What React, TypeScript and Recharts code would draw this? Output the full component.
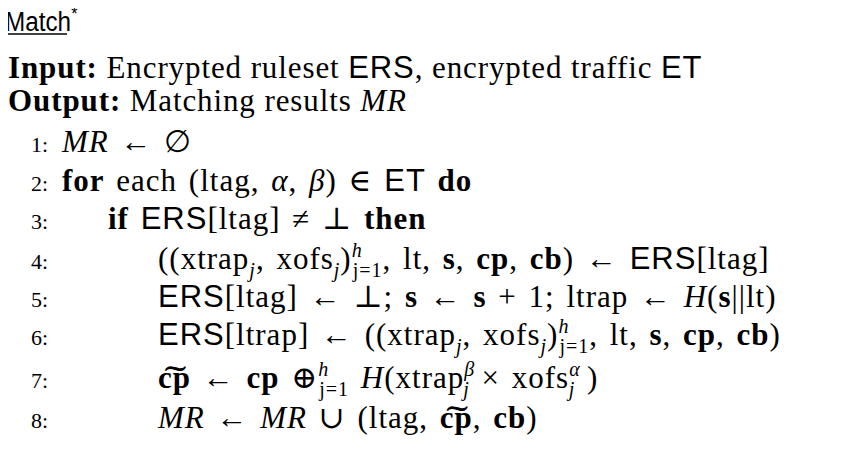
import { ComposedChart, Customized } from 'recharts';

type Seg = { t: string; k?: 'b' | 'i' | 'sf' | 'sub' | 'sup'; dx?: number };

const title = 'Match';
const header: { label: string; segs: Seg[] }[] = [
  { label: 'Input:', segs: [{ t: ' Encrypted ruleset ' }, { t: 'ERS', k: 'sf' }, { t: ', encrypted traffic ' }, { t: 'ET', k: 'sf' }] },
  { label: 'Output:', segs: [{ t: ' Matching results ' }, { t: 'MR', k: 'i' }] },
];
const steps: { indent: number; segs: Seg[] }[] = [
  { indent: 0, segs: [{ t: 'MR', k: 'i' }, { t: ' ← ∅' }] },
  { indent: 0, segs: [{ t: 'for', k: 'b' }, { t: ' each (ltag, ' }, { t: 'α', k: 'i' }, { t: ', ' }, { t: 'β', k: 'i' }, { t: ') ∈ ' }, { t: 'ET', k: 'sf' }, { t: ' ' }, { t: 'do', k: 'b' }] },
  { indent: 1, segs: [{ t: 'if', k: 'b' }, { t: ' ' }, { t: 'ERS', k: 'sf' }, { t: '[ltag] ≠ ⊥ ' }, { t: 'then', k: 'b' }] },
  { indent: 2, segs: [{ t: '((xtrap' }, { t: 'j', k: 'sub' }, { t: ', xofs' }, { t: 'j', k: 'sub' }, { t: ')' }, { t: 'h', k: 'sup' }, { t: 'j=1', k: 'sub', dx: -10 }, { t: ', lt, ' }, { t: 's', k: 'b' }, { t: ', ' }, { t: 'cp', k: 'b' }, { t: ', ' }, { t: 'cb', k: 'b' }, { t: ') ← ' }, { t: 'ERS', k: 'sf' }, { t: '[ltag]' }] },
  { indent: 2, segs: [{ t: 'ERS', k: 'sf' }, { t: '[ltag] ← ⊥; ' }, { t: 's', k: 'b' }, { t: ' ← ' }, { t: 's', k: 'b' }, { t: ' + 1; ltrap ← ' }, { t: 'H', k: 'i' }, { t: '(' }, { t: 's', k: 'b' }, { t: '||lt)' }] },
  { indent: 2, segs: [{ t: 'ERS', k: 'sf' }, { t: '[ltrap] ← ((xtrap' }, { t: 'j', k: 'sub' }, { t: ', xofs' }, { t: 'j', k: 'sub' }, { t: ')' }, { t: 'h', k: 'sup' }, { t: 'j=1', k: 'sub', dx: -10 }, { t: ', lt, ' }, { t: 's', k: 'b' }, { t: ', ' }, { t: 'cp', k: 'b' }, { t: ', ' }, { t: 'cb', k: 'b' }, { t: ')' }] },
  { indent: 2, segs: [{ t: 'c͠p', k: 'b' }, { t: ' ← ' }, { t: 'cp', k: 'b' }, { t: ' ⊕' }, { t: 'h', k: 'sup' }, { t: 'j=1', k: 'sub', dx: -10 }, { t: ' ' }, { t: 'H', k: 'i' }, { t: '(xtrap' }, { t: 'β', k: 'sup' }, { t: 'j', k: 'sub', dx: -12 }, { t: '  × xofs' }, { t: 'α', k: 'sup' }, { t: 'j', k: 'sub', dx: -12 }, { t: ' )' }] },
  { indent: 2, segs: [{ t: 'MR', k: 'i' }, { t: ' ← ' }, { t: 'MR', k: 'i' }, { t: ' ∪ (ltag, ' }, { t: 'c͠p', k: 'b' }, { t: ', ' }, { t: 'cb', k: 'b' }, { t: ')' }] },
];
const stepY = [152, 191, 229, 269, 307, 345, 388, 428];
const indents = [62, 108, 158];

const SERIF = '"Liberation Serif", "DejaVu Serif", serif';
const SANS = '"Liberation Sans", Arial, sans-serif';

function renderSegs(segs: Seg[]) {
  let shift = 0;
  return segs.map((s, i) => {
    const target = s.k === 'sub' ? 8 : s.k === 'sup' ? -12 : 0;
    const dy = target - shift;
    shift = target;
    const small = s.k === 'sub' || s.k === 'sup';
    return (
      <tspan
        key={i}
        dy={dy}
        dx={s.dx}
        fontSize={small ? 20 : undefined}
        fontWeight={s.k === 'b' ? 'bold' : undefined}
        fontStyle={s.k === 'i' || (small && s.t !== 'j=1') ? 'italic' : undefined}
        fontFamily={s.k === 'sf' ? SANS : undefined}
      >
        {s.t}
      </tspan>
    );
  });
}

function Listing() {
  return (
    <g fill="#000">
      <text x={5} y={31} fontFamily={SANS} fontSize={27} transform="translate(5 0) scale(0.9 1) translate(-5 0)">
        <tspan>{title}</tspan>
        <tspan dy={-11} fontSize={18}>*</tspan>
      </text>
      <line x1={5} x2={67} y1={34} y2={34} stroke="#000" strokeWidth={1.3} />
      {header.map((h, i) => (
        <text key={i} x={8} y={78 + i * 33} fontFamily={SERIF} fontSize={31} letterSpacing={0.9}>
          <tspan fontWeight="bold">{h.label}</tspan>
          {renderSegs(h.segs)}
        </text>
      ))}
      {steps.map((st, i) => (
        <g key={i}>
          <text x={48} y={stepY[i]} textAnchor="end" fontFamily={SERIF} fontSize={22}>{i + 1}:</text>
          <text x={indents[st.indent]} y={stepY[i]} fontFamily={SERIF} fontSize={31} letterSpacing={1} wordSpacing={3}>
            {renderSegs(st.segs)}
          </text>
        </g>
      ))}
    </g>
  );
}

export default function App() {
  return (
    <div style={{ margin: -8, background: '#fff', width: 865, height: 450 }}>
      <ComposedChart width={865} height={450} data={[]} margin={{ top: 0, right: 0, left: 0, bottom: 0 }}>
        <Customized component={Listing} />
      </ComposedChart>
    </div>
  );
}
